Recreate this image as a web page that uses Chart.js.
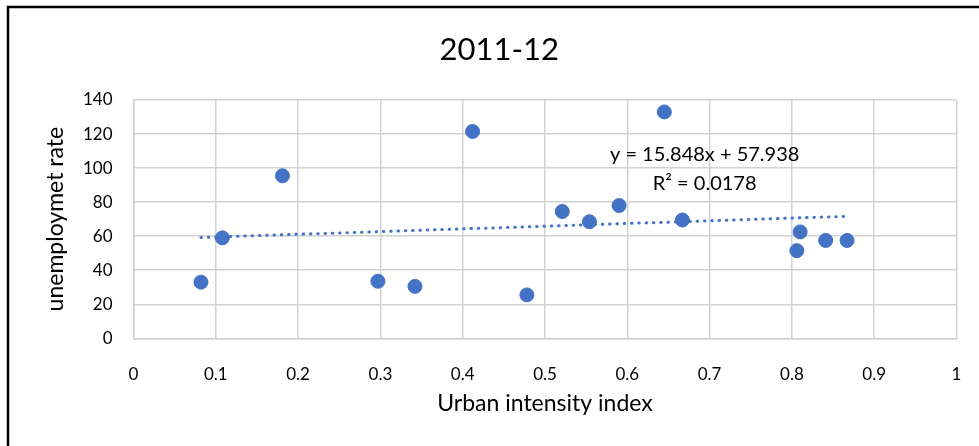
<!DOCTYPE html>
<html>
<head>
<meta charset="utf-8">
<script src="https://cdn.jsdelivr.net/npm/chart.js@4/dist/chart.umd.min.js"></script>
<style>
  html, body { margin: 0; padding: 0; background: #fff; }
  #wrap { width: 979px; height: 446px; position: relative; }
</style>
</head>
<body>
<div id="wrap"><canvas id="c" width="979" height="446"></canvas></div>
<script>
// Urban intensity index vs unemployment rate, 2011-12
const chartTitle = '2011-12';
const xAxisTitle = 'Urban intensity index';
const yAxisTitle = 'unemploymet rate';

const urbanIndex   = [0.082, 0.108, 0.181, 0.297, 0.342, 0.412, 0.478, 0.521, 0.554, 0.590, 0.645, 0.667, 0.806, 0.810, 0.841, 0.867];
const unemployment = [33,    59,    95.5,  33.5,  30.5,  121.5, 25.5,  74.5,  68.5,  78,    133,   69.5,  51.5,  62.5,  57.5,  57.5];

// Linear trend fitted in the source workbook
const trendSlope = 15.848;
const trendIntercept = 57.938;
const trendR2 = 0.0178;

const xTicks = [0, 0.1, 0.2, 0.3, 0.4, 0.5, 0.6, 0.7, 0.8, 0.9, 1];
const yTicks = [0, 20, 40, 60, 80, 100, 120, 140];

const FONT = "Lato, 'Open Sans', sans-serif";
const BLUE = '#4472C4';
const GRID = '#d2d2d2';

const points = urbanIndex.map((x, i) => ({ x: x, y: unemployment[i] }));
const xMin = Math.min(...urbanIndex);
const xMax = Math.max(...urbanIndex);
const trend = [xMin, xMax].map(x => ({ x: x, y: trendSlope * x + trendIntercept }));

// White page with the black frame along the top and left edges
const framePlugin = {
  id: 'frame',
  beforeDraw(chart) {
    const ctx = chart.ctx;
    ctx.save();
    ctx.fillStyle = '#fff';
    ctx.fillRect(0, 0, chart.width, chart.height);
    ctx.strokeStyle = '#000';
    ctx.lineWidth = 2.5;
    ctx.beginPath();
    ctx.moveTo(8, chart.height);
    ctx.lineTo(8, 7);
    ctx.lineTo(chart.width, 7);
    ctx.stroke();
    ctx.restore();
  }
};

// Trendline equation label placed in data space
const equationPlugin = {
  id: 'equation',
  afterDatasetsDraw(chart) {
    const { ctx, scales } = chart;
    const cx = scales.x.getPixelForValue(0.694);
    const y1 = scales.y.getPixelForValue(107.7);
    const y2 = scales.y.getPixelForValue(91.2);
    ctx.save();
    ctx.fillStyle = '#000';
    ctx.font = '20px ' + FONT;
    ctx.textAlign = 'center';
    ctx.textBaseline = 'middle';
    ctx.fillText('y = ' + trendSlope + 'x + ' + trendIntercept, cx, y1);
    ctx.fillText('R\u00B2 = ' + trendR2, cx, y2);
    ctx.restore();
  }
};

new Chart(document.getElementById('c'), {
  type: 'scatter',
  data: {
    datasets: [
      {
        label: 'unemployment',
        data: points,
        backgroundColor: BLUE,
        borderColor: BLUE,
        pointRadius: 7,
        pointHoverRadius: 7,
        order: 1
      },
      {
        label: 'trend',
        type: 'line',
        data: trend,
        borderColor: BLUE,
        borderWidth: 3,
        borderDash: [0.5, 6.8],
        borderCapStyle: 'round',
        pointRadius: 0,
        fill: false,
        order: 2
      }
    ]
  },
  options: {
    responsive: false,
    animation: false,
    events: [],
    layout: { padding: { left: 42, right: 22.5, top: 10, bottom: 0 } },
    plugins: {
      legend: { display: false },
      tooltip: { enabled: false },
      title: {
        display: true,
        text: chartTitle,
        color: '#000',
        font: { family: FONT, size: 31, weight: 'normal' },
        padding: { top: 21.4, bottom: 31.4 }
      }
    },
    scales: {
      x: {
        type: 'linear',
        min: 0,
        max: 1,
        afterBuildTicks(scale) { scale.ticks = xTicks.map(v => ({ value: v })); },
        afterFit(scale) {
          scale.height = 107.7;
          scale.paddingLeft = 0;
          scale.paddingRight = 0;
        },
        grid: { color: GRID, lineWidth: 1.5, drawTicks: false },
        border: { color: GRID, width: 1.5 },
        ticks: {
          color: '#000',
          padding: 26,
          font: { family: FONT, size: 17 },
          callback: v => String(v)
        },
        title: {
          display: true,
          text: xAxisTitle,
          color: '#000',
          font: { family: FONT, size: 23 },
          padding: { top: 0, bottom: 28.2 }
        }
      },
      y: {
        type: 'linear',
        min: 0,
        max: 140,
        afterBuildTicks(scale) { scale.ticks = yTicks.map(v => ({ value: v })); },
        afterFit(scale) {
          scale.width = 91.5;
          scale.paddingTop = 0;
          scale.paddingBottom = 0;
        },
        grid: { color: GRID, lineWidth: 1.5, drawTicks: false },
        border: { color: GRID, width: 1.5 },
        ticks: {
          color: '#000',
          padding: 21,
          font: { family: FONT, size: 17 }
        },
        title: {
          display: true,
          text: yAxisTitle,
          color: '#000',
          font: { family: FONT, size: 23 },
          padding: { top: 0, bottom: 0 }
        }
      }
    }
  },
  plugins: [framePlugin, equationPlugin]
});
</script>
</body>
</html>
